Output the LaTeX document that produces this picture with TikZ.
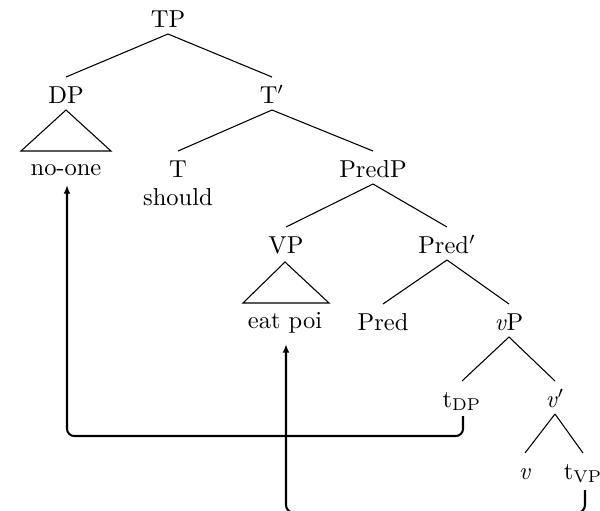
\documentclass[tikz,border=0pt]{standalone}
\usetikzlibrary{calc,arrows.meta}
\begin{document}
\begin{tikzpicture}[x=0.41667pt,y=-0.41667pt,
  lab/.style={anchor=base,inner sep=0pt,font=\fontsize{10.2}{12}\selectfont},
  branch/.style={line width=0.45pt},
  move/.style={line width=0.85pt,rounded corners=3pt,-{Latex[length=3.6pt,width=2.8pt]}}]
\useasboundingbox (0,0) rectangle (600,510);

% tree labels, placed on their baselines
\node[lab] (TP)      at (168,27)  {TP};
\node[lab] (DP)      at (66,103)  {DP};
\node[lab] (Tbar)    at (272,103) {T$'$};
\node[lab] (noone)   at (66,175)  {no-one};
\node[lab] (T)       at (178,177) {T};
\node[lab] (should)  at (178,205) {should};
\node[lab] (PredP)   at (373,177) {PredP};
\node[lab] (VP)      at (286,253) {VP};
\node[lab] (Predbar) at (447,253) {Pred$'$};
\node[lab] (eatpoi)  at (285,328) {eat poi};
\node[lab] (Pred)    at (383,330) {Pred};
\node[lab] (vP)      at (509,330) {\textit{v}P};
\node[lab] (tDP)     at (462,407) {t\textsubscript{DP}};
\node[lab] (vbar)    at (555,407) {\textit{v}$'$};
\node[lab] (v)       at (525,479) {\textit{v}};
\node[lab] (tVP)     at (583,479) {t\textsubscript{VP}};

% branches
\foreach \p/\c in {TP/DP, TP/Tbar, Tbar/T, Tbar/PredP, PredP/VP, PredP/Predbar,
                   Predbar/Pred, Predbar/vP, vP/tDP, vP/vbar, vbar/v, vbar/tVP}
  \draw[branch] ($(\p.base)+(0,7)$) -- ($(\c.base)+(0,-26)$);

% roofs
\draw[branch] ($(DP.base)+(0,7)$) -- ($(noone.base)+(-45,-24)$)
  -- ($(noone.base)+(45,-24)$) -- cycle;
\draw[branch] ($(VP.base)+(-1,9)$) -- ($(eatpoi.base)+(-42,-25)$)
  -- ($(eatpoi.base)+(44,-25)$) -- cycle;

% movement arrows
\draw[move] ($(tDP.base)+(1,9)$) |- ($(noone.base)+(1,261)$) -- ($(noone.base)+(1,10)$);
\draw[move,rounded corners=3.4pt] ($(tVP.base)+(2,11)$) |- ($(eatpoi.base)+(1,185)$)
  -- ($(eatpoi.base)+(1,16)$);
\end{tikzpicture}
\end{document}
